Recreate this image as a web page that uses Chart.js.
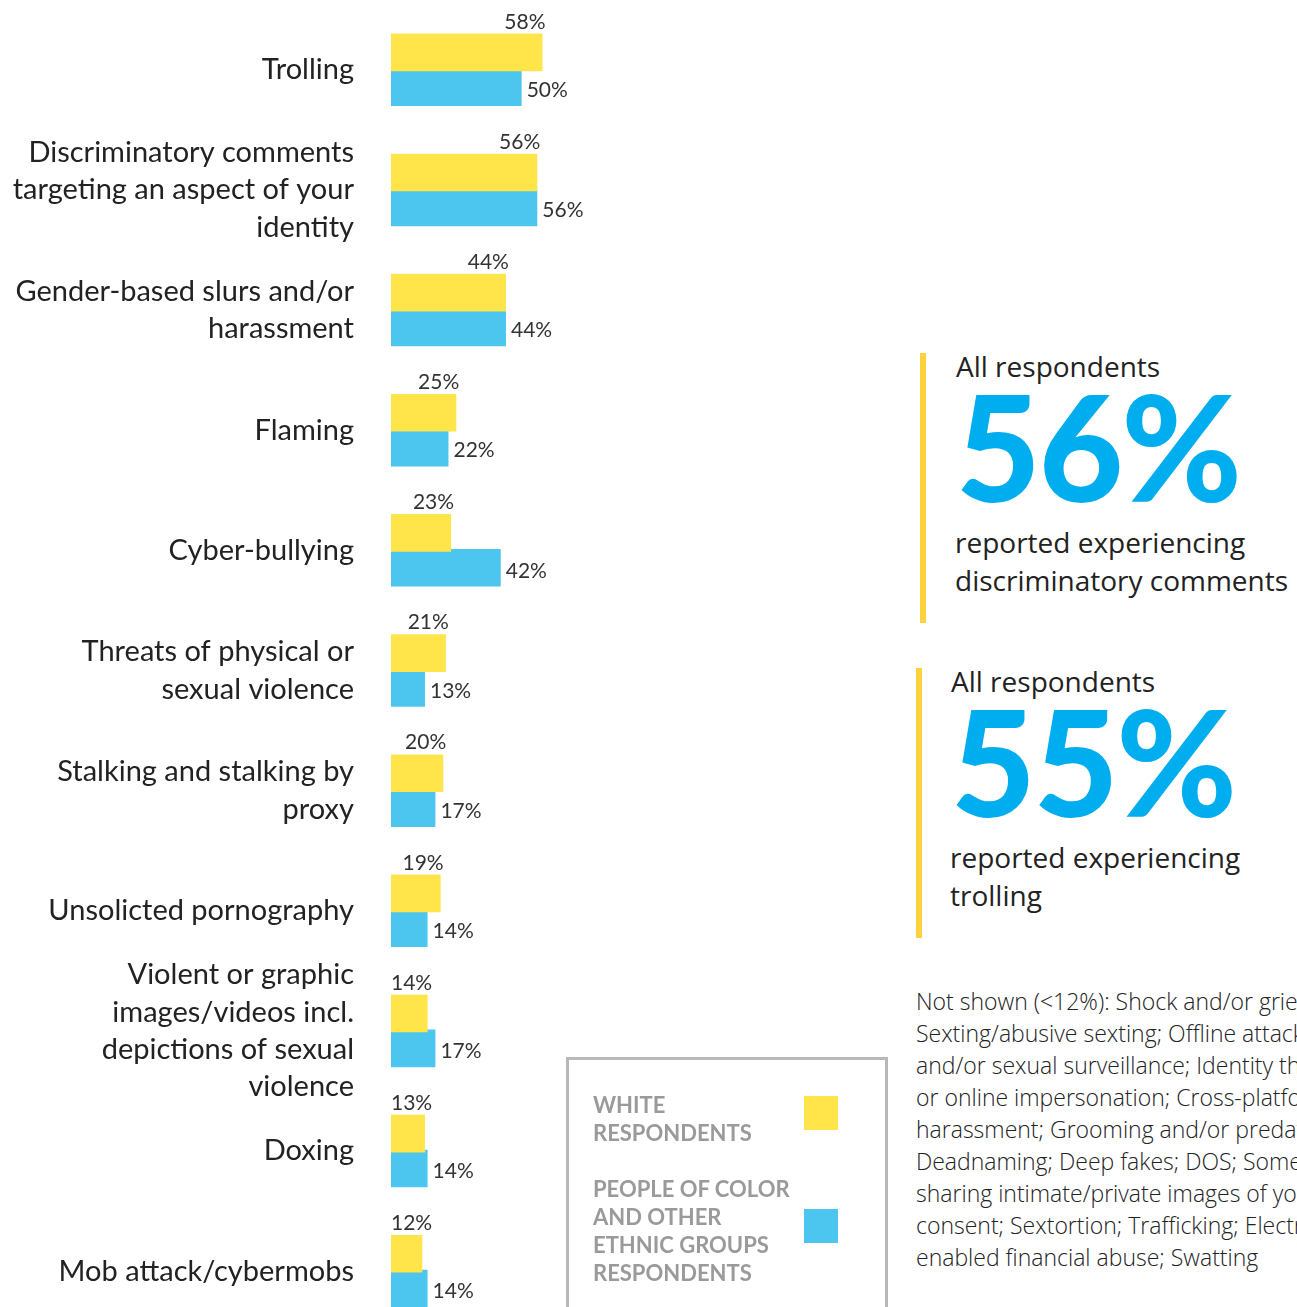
<!DOCTYPE html>
<html>
<head>
<meta charset="utf-8">
<script src="https://cdn.jsdelivr.net/npm/chart.js@4.4.1/dist/chart.umd.min.js"></script>
<style>
    html, body {
        margin: 0;
        padding: 0;
        width: 1297px;
        height: 1307px;
        overflow: hidden;
        background: #fff;
    }
    #wrap {
        position: absolute;
        left: 0;
        top: -9px;
        width: 600px;
        height: 1359px;
    }
    .stat {
        position: absolute;
        font-family: "Open Sans", sans-serif;
        color: #222;
        white-space: nowrap;
    }
    .stat .bar {
        position: absolute;
        left: 0;
        top: 0;
        width: 6px;
        height: 270px;
        background: #fdd23c;
    }
    .stat .head {
        position: absolute;
        font-size: 28px;
        line-height: 38px;
    }
    .stat .big {
        position: absolute;
        font-family: Lato, sans-serif;
        font-weight: 900;
        font-size: 146px;
        line-height: 146px;
        color: #00aeef;
        letter-spacing: -2px;
    }
    .stat .sub {
        position: absolute;
        font-size: 28px;
        line-height: 38px;
    }
    #legend {
        position: absolute;
        left: 566px;
        top: 1057px;
        width: 316px;
        height: 300px;
        border: 3px solid #b8b8b8;
        font-family: Lato, sans-serif;
        font-weight: 700;
        font-size: 22px;
        line-height: 28px;
        color: #9a9a9a;
    }
    #legend .txt {
        position: absolute;
        left: 24px;
    }
    #legend .sw {
        position: absolute;
        left: 235px;
        width: 34px;
        height: 34px;
    }
    #note {
        position: absolute;
        left: 916px;
        top: 985px;
        font-family: "Open Sans", sans-serif;
        font-weight: 300;
        font-size: 23px;
        line-height: 32px;
        color: #222;
        white-space: nowrap;
    }
</style>
</head>
<body>
<div id="wrap"><canvas id="chart"></canvas></div>

<div class="stat" style="left:920px; top:353px;">
    <div class="bar"></div>
    <div class="head" style="left:36px; top:-6px;">All respondents</div>
    <div class="big" style="left:36px; top:20px;">56%</div>
    <div class="sub" style="left:35px; top:170px;">reported experiencing<br>discriminatory comments</div>
</div>
<div class="stat" style="left:916px; top:668px;">
    <div class="bar"></div>
    <div class="head" style="left:35px; top:-6px;">All respondents</div>
    <div class="big" style="left:35px; top:20px;">55%</div>
    <div class="sub" style="left:34px; top:170px;">reported experiencing<br>trolling</div>
</div>

<div id="legend">
    <div class="txt" style="top:31px;">WHITE<br>RESPONDENTS</div>
    <div class="sw" style="top:36px; background:#ffe44a;"></div>
    <div class="txt" style="top:115px;">PEOPLE OF COLOR<br>AND OTHER<br>ETHNIC GROUPS<br>RESPONDENTS</div>
    <div class="sw" style="top:149px; background:#4cc6ee;"></div>
</div>

<div id="note">
    Not shown (&lt;12%): Shock and/or grief trolling;<br>
    Sexting/abusive sexting; Offline attacks; Physical<br>
    and/or sexual surveillance; Identity theft<br>
    or online impersonation; Cross-platform<br>
    harassment; Grooming and/or predatory behaviour;<br>
    Deadnaming; Deep fakes; DOS; Someone<br>
    sharing intimate/private images of you without<br>
    consent; Sextortion; Trafficking; Electronically-<br>
    enabled financial abuse; Swatting
</div>

<script>
const categories = [
    'Trolling',
    ['Discriminatory comments', 'targeting an aspect of your', 'identity'],
    ['Gender-based slurs and/or', 'harassment'],
    'Flaming',
    'Cyber-bullying',
    ['Threats of physical or', 'sexual violence'],
    ['Stalking and stalking by', 'proxy'],
    'Unsolicted pornography',
    ['Violent or graphic', 'images/videos incl.', 'depictions of sexual', 'violence'],
    'Doxing',
    'Mob attack/cybermobs'
];
const whiteRespondents = [58, 56, 44, 25, 23, 21, 20, 19, 14, 13, 12];
const pocRespondents = [50, 56, 44, 22, 42, 13, 17, 14, 17, 14, 14];

const yellow = '#ffe44a';
const blue = 'rgba(31, 184, 234, 0.8)';

// percentages next to the bars: yellow on top, blue to the right
const barLabels = {
    id: 'barLabels',
    afterDatasetsDraw(chart) {
        const ctx = chart.ctx;
        const left = chart.chartArea.left;
        ctx.save();
        ctx.font = '21px Lato, sans-serif';
        ctx.fillStyle = '#333';
        chart.getDatasetMeta(0).data.forEach((bar, i) => {
            let text = whiteRespondents[i] + '%';
            let w = ctx.measureText(text).width;
            let x = Math.max(bar.x + 3 - w, left);
            let top = bar.y - bar.height / 2;
            ctx.textBaseline = 'alphabetic';
            ctx.textAlign = 'left';
            ctx.fillText(text, x, top - 5);
        });
        chart.getDatasetMeta(1).data.forEach((bar, i) => {
            let text = pocRespondents[i] + '%';
            ctx.textBaseline = 'middle';
            ctx.textAlign = 'left';
            ctx.fillText(text, bar.x + 5, bar.y + 3);
        });
        ctx.restore();
    }
};

new Chart(document.getElementById('chart'), {
    type: 'bar',
    data: {
        labels: categories,
        datasets: [{
            label: 'White respondents',
            data: whiteRespondents,
            backgroundColor: yellow
        }, {
            label: 'People of color and other ethnic groups respondents',
            data: pocRespondents,
            backgroundColor: blue
        }]
    },
    options: {
        indexAxis: 'y',
        responsive: true,
        maintainAspectRatio: false,
        animation: false,
        categoryPercentage: 0.58,
        barPercentage: 1.08,
        layout: {
            padding: 0
        },
        plugins: {
            legend: {display: false},
            tooltip: {enabled: false}
        },
        scales: {
            x: {
                display: false,
                min: 0,
                max: 80
            },
            y: {
                // invisible tick marks keep the gap between labels and bars
                grid: {color: 'rgba(0,0,0,0)', drawOnChartArea: false, drawTicks: true, tickLength: 37},
                border: {display: false},
                afterFit: (scale) => {
                    scale.width = 391;
                },
                ticks: {
                    autoSkip: false,
                    padding: 0,
                    color: '#222',
                    font: {family: 'Lato, sans-serif', size: 29, lineHeight: 1.29}
                }
            }
        }
    },
    plugins: [barLabels]
});
</script>
</body>
</html>
